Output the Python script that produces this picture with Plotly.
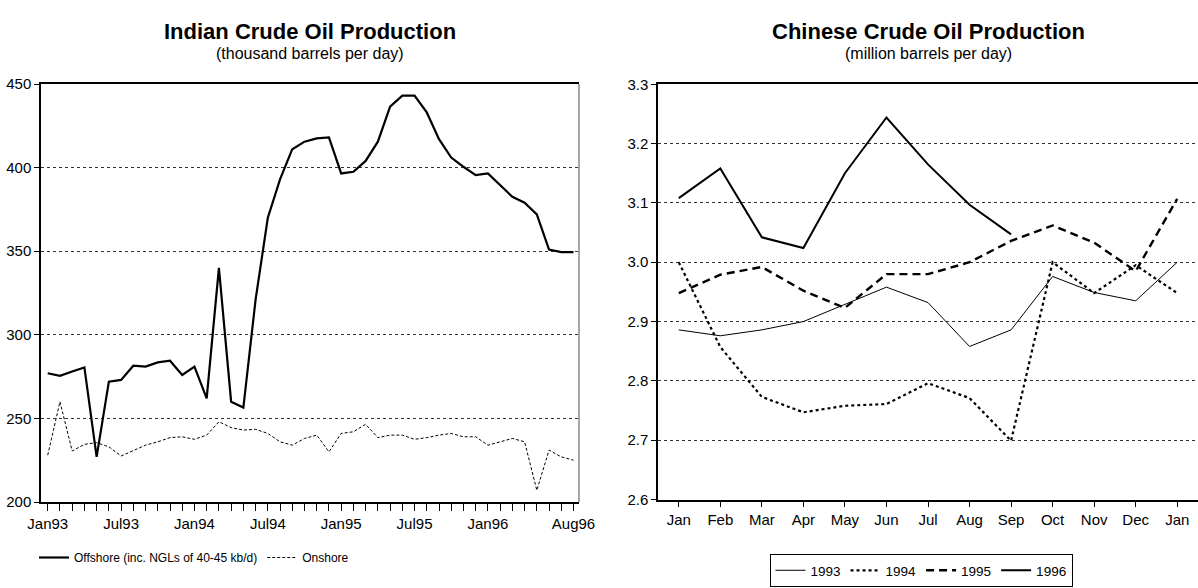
import plotly.graph_objects as go

# ---- Indian crude oil production, monthly Jan93 .. Aug96 (thousand b/d) ----
india_months = [f"{m}{y}" for y in ("93", "94", "95", "96")
                for m in ("Jan", "Feb", "Mar", "Apr", "May", "Jun",
                          "Jul", "Aug", "Sep", "Oct", "Nov", "Dec")][:44]
offshore = [277, 275.5, 278, 280.5, 227, 272, 273, 281.5, 281, 283.5, 284.5, 276,
            281, 262, 340, 260, 256.5, 321, 370, 393, 411, 415.5, 417.5, 418,
            396.5, 397.5, 404, 415.5, 436.5, 443, 443, 433, 417, 406, 400.5, 395.5,
            396.5, 389.5, 382.5, 379, 372, 351, 349.5, 349.5]
onshore = [228, 260, 230.5, 234.5, 235.5, 233, 227.5, 231, 234, 236, 238.5, 239,
           237.5, 240, 248, 244.5, 243, 243.5, 241, 236, 234, 238, 240, 230,
           241, 242, 246.5, 238.5, 240, 240, 237.5, 238.5, 240, 241, 239, 239,
           234, 236, 238, 236, 207, 231, 227, 225]
india_labels = ["Jan93", "Jul93", "Jan94", "Jul94", "Jan95", "Jul95", "Jan96", "Aug96"]
india_yticks = [200, 250, 300, 350, 400, 450]

# ---- Chinese crude oil production by calendar month (million b/d) ----
china_months = ["Jan", "Feb", "Mar", "Apr", "May", "Jun", "Jul",
                "Aug", "Sep", "Oct", "Nov", "Dec", "Jan"]
china_1993 = [2.886, 2.876, 2.886, 2.900, 2.929, 2.958, 2.932, 2.858, 2.886,
              2.976, 2.949, 2.935, 3.000]
china_1994 = [3.000, 2.857, 2.773, 2.747, 2.758, 2.761, 2.796, 2.771, 2.699,
              3.000, 2.948, 2.995, 2.948]
china_1995 = [2.948, 2.979, 2.992, 2.952, 2.923, 2.980, 2.980, 3.000, 3.036,
              3.062, 3.033, 2.985, 3.107]
china_1996 = [3.108, 3.158, 3.042, 3.024, 3.150, 3.244, 3.165, 3.097, 3.047]
china_yticks = [2.6, 2.7, 2.8, 2.9, 3.0, 3.1, 3.2, 3.3]

W, H = 1198, 588
FONT = "Liberation Sans, Arial, Helvetica, sans-serif"


def px_x(p):
    return p / W


def px_y(p):
    return 1 - p / H


fig = go.Figure()

# Indian chart
fig.add_trace(go.Scatter(
    x=india_months, y=offshore, mode="lines", name="Offshore (inc. NGLs of 40-45 kb/d)",
    line=dict(color="black", width=2.2), xaxis="x", yaxis="y", legend="legend"))
fig.add_trace(go.Scatter(
    x=india_months, y=onshore, mode="lines", name="Onshore",
    line=dict(color="black", width=1, dash="3px,2px"), xaxis="x", yaxis="y",
    legend="legend"))

# Chinese chart
cx = list(range(len(china_months)))
fig.add_trace(go.Scatter(x=cx, y=china_1993, mode="lines", name="1993",
                         line=dict(color="black", width=1), xaxis="x2", yaxis="y2",
                         legend="legend2"))
fig.add_trace(go.Scatter(x=cx, y=china_1994, mode="lines", name="1994",
                         line=dict(color="black", width=2.2, dash="dot"),
                         xaxis="x2", yaxis="y2", legend="legend2"))
fig.add_trace(go.Scatter(x=cx, y=china_1995, mode="lines", name="1995",
                         line=dict(color="black", width=2.4, dash="8px,5px"),
                         xaxis="x2", yaxis="y2", legend="legend2"))
fig.add_trace(go.Scatter(x=cx[:len(china_1996)], y=china_1996, mode="lines", name="1996",
                         line=dict(color="black", width=2), xaxis="x2", yaxis="y2",
                         legend="legend2"))

grid = dict(showgrid=True, gridcolor="#333333", griddash="dot", gridwidth=1)
tickfont = dict(family=FONT, size=15, color="black")

india_text = [m if m in india_labels else "" for m in india_months]

fig.update_layout(
    width=W, height=H, margin=dict(l=0, r=0, t=0, b=0, autoexpand=False),
    paper_bgcolor="white", plot_bgcolor="white",
    font=dict(family=FONT, color="black"),
    xaxis=dict(domain=[px_x(41), px_x(579)], type="category",
               range=[-0.55, 43.45], tickmode="array", tickvals=india_months,
               ticktext=india_text, ticks="outside", ticklen=7, tickcolor="black",
               showline=True, linecolor="black", linewidth=1.5, mirror=True,
               showgrid=False, tickangle=0, tickfont=tickfont, anchor="y",
               automargin=False),
    yaxis=dict(domain=[px_y(502), px_y(84)], range=[200, 450], tickvals=india_yticks,
               ticks="outside", ticklen=5, tickcolor="black", showline=True,
               linecolor="black", linewidth=1.5, tickfont=tickfont, anchor="x",
               zeroline=False, automargin=False, **grid),
    xaxis2=dict(domain=[px_x(658), 1.0], range=[-0.5, 12.5], tickmode="array",
                tickvals=cx, ticktext=china_months, ticks="outside", ticklen=6,
                tickcolor="black", showline=True, linecolor="black", linewidth=1.5,
                mirror=True, showgrid=False, tickfont=tickfont, anchor="y2",
                zeroline=False, automargin=False),
    yaxis2=dict(domain=[px_y(499.5), px_y(84.3)], range=[2.6, 3.3],
                tickvals=china_yticks, tickformat=".1f", ticks="outside", ticklen=5,
                tickcolor="black", showline=True, linecolor="black", linewidth=1.5,
                tickfont=tickfont, anchor="x2", zeroline=False, automargin=False,
                **grid),
    legend=dict(orientation="h", x=px_x(34), y=px_y(543), xanchor="left",
                yanchor="top", font=dict(family=FONT, size=12), bgcolor="white",
                itemwidth=30, tracegroupgap=0),
    legend2=dict(orientation="h", x=px_x(921), y=px_y(554), xanchor="center",
                 yanchor="top", font=dict(family=FONT, size=13.5), bgcolor="white",
                 bordercolor="black", borderwidth=1, itemwidth=30),
    showlegend=True,
)

# right-hand frame of the Indian chart
fig.add_shape(type="line", xref="paper", yref="paper", x0=px_x(579), x1=px_x(579),
              y0=px_y(502), y1=px_y(84), line=dict(color="#888888", width=1.5))

titles = [
    (px_x(310), "Indian Crude Oil Production", "(thousand barrels per day)"),
    (px_x(928), "Chinese Crude Oil Production", "(million barrels per day)"),
]
for xc, title, sub in titles:
    fig.add_annotation(x=xc, y=px_y(31), xref="paper", yref="paper", text=f"<b>{title}</b>",
                       showarrow=False, xanchor="center", yanchor="middle",
                       font=dict(family=FONT, size=22, color="black"))
    fig.add_annotation(x=xc, y=px_y(53), xref="paper", yref="paper", text=sub,
                       showarrow=False, xanchor="center", yanchor="middle",
                       font=dict(family=FONT, size=16, color="black"))

fig.write_html("out.html")
